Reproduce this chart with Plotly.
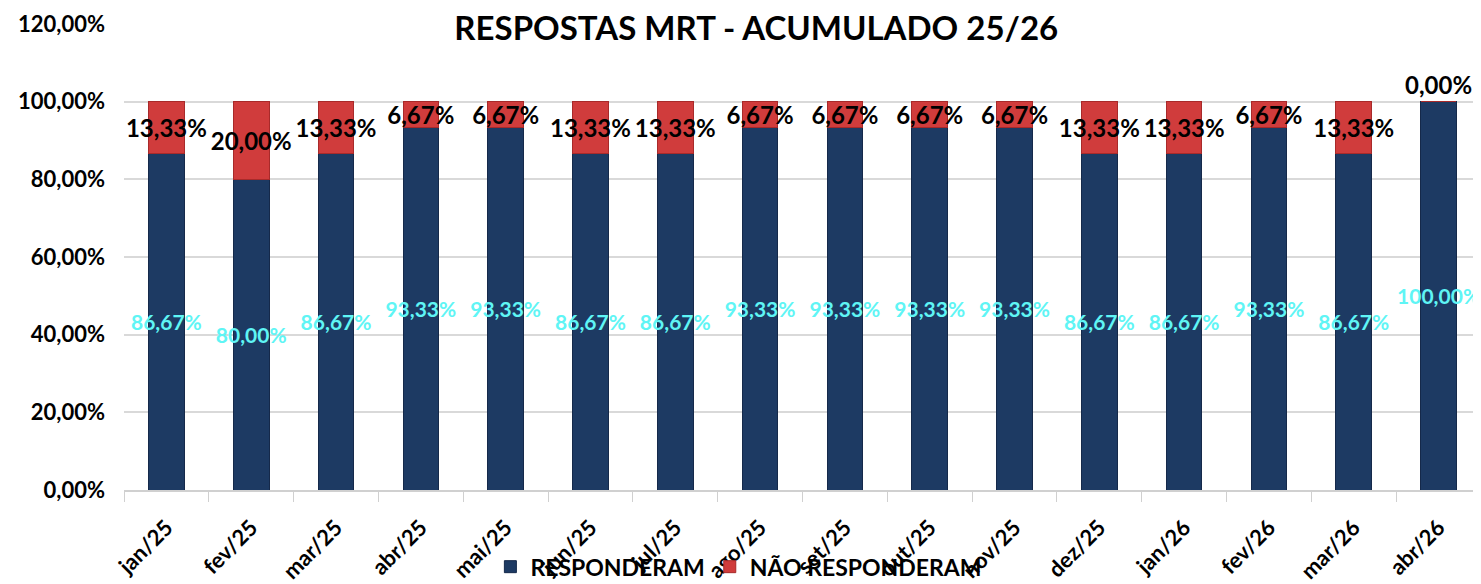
import plotly.graph_objects as go

meses = ["jan/25", "fev/25", "mar/25", "abr/25", "mai/25", "jun/25", "jul/25", "ago/25",
         "set/25", "out/25", "nov/25", "dez/25", "jan/26", "fev/26", "mar/26", "abr/26"]
responderam = [86.67, 80.00, 86.67, 93.33, 93.33, 86.67, 86.67, 93.33,
               93.33, 93.33, 93.33, 86.67, 86.67, 93.33, 86.67, 100.00]
nao_responderam = [13.33, 20.00, 13.33, 6.67, 6.67, 13.33, 13.33, 6.67,
                   6.67, 6.67, 6.67, 13.33, 13.33, 6.67, 13.33, 0.00]


def pct(v):
    return f"{v:.2f}".replace(".", ",") + "%"


fonte = "Lato"

fig = go.Figure()
fig.add_trace(
    go.Bar(
        x=meses,
        y=responderam,
        name="RESPONDERAM",
        marker=dict(color="#1d3a63", line=dict(color="#15294a", width=1)),
        text=[pct(v) for v in responderam],
        textposition="inside",
        insidetextanchor="middle",
        textangle=0,
        constraintext="none",
        insidetextfont=dict(family=fonte, size=21, color="#5ff5f5", weight="bold"),
    )
)
fig.add_trace(
    go.Bar(
        x=meses,
        y=nao_responderam,
        name="NÃO RESPONDERAM",
        marker=dict(color="#d03c3c", line=dict(color="#a82a2a", width=1)),
        text=[pct(v) for v in nao_responderam],
        # a zero-height segment gets its label just above the bar
        textposition=["outside" if v == 0 else "inside" for v in nao_responderam],
        insidetextanchor="middle",
        textangle=0,
        constraintext="none",
        cliponaxis=False,
        insidetextfont=dict(family=fonte, size=24, color="black", weight="bold"),
        outsidetextfont=dict(family=fonte, size=24, color="black", weight="bold"),
    )
)

fig.update_xaxes(
    automargin=False,
    showgrid=False,
    showline=True,
    linecolor="#d0d0d0",
    linewidth=2,
    ticks="outside",
    tickson="boundaries",
    ticklen=10,
    tickcolor="#d0d0d0",
    tickangle=-45,
    ticklabelstandoff=14,
    tickfont=dict(family=fonte, size=22, color="black", weight="bold"),
)
fig.update_yaxes(
    automargin=False,
    range=[0, 120],
    dtick=20,
    tickformat=".2f",
    ticksuffix="%",
    showgrid=True,
    gridcolor="#d9d9d9",
    gridwidth=2,
    zeroline=False,
    ticklabelstandoff=18,
    tickfont=dict(family=fonte, size=22, color="black", weight="bold"),
)
# the page body adds an 8px margin, so the figure is a bit smaller than the window
fig.update_layout(
    width=1473,
    height=576,
    barmode="stack",
    bargap=0.58,
    separators=",.",
    plot_bgcolor="white",
    paper_bgcolor="white",
    margin=dict(l=116, r=0, t=16, b=94, autoexpand=False),
    title=dict(
        text="RESPOSTAS MRT - ACUMULADO 25/26",
        x=0.508,
        xanchor="center",
        y=0.965,
        yanchor="middle",
        font=dict(family=fonte, size=33, color="black", weight="bold"),
    ),
    legend=dict(
        orientation="h",
        traceorder="normal",
        x=0.27,
        xanchor="left",
        yref="container",
        y=0.03,
        yanchor="middle",
        bgcolor="rgba(0,0,0,0)",
        font=dict(family=fonte, size=23, color="black", weight="bold"),
    ),
)

fig.write_html("out.html")
